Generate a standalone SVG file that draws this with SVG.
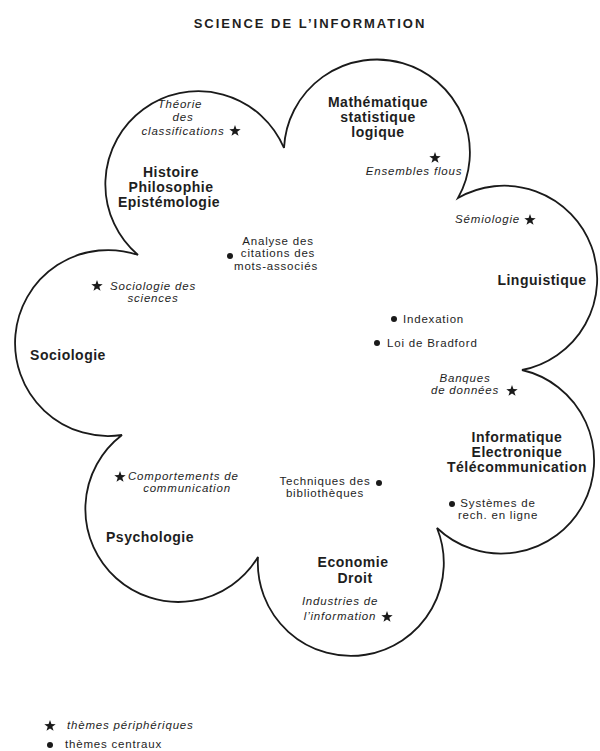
<svg xmlns="http://www.w3.org/2000/svg" xmlns:xlink="http://www.w3.org/1999/xlink" width="600" height="751" viewBox="0 0 600 751">
<style>
text{font-family:"Liberation Sans",Arial,sans-serif;fill:#1e1e1e}
.t{font-size:13px;font-weight:bold;letter-spacing:2px}
.b{font-size:14px;font-weight:bold;letter-spacing:0.5px;text-anchor:middle}
.i{font-size:11.5px;font-style:italic;letter-spacing:0.8px}
.r{font-size:11.5px;letter-spacing:0.8px}
.m{text-anchor:middle}
.e{text-anchor:end}
.cloud{fill:none;stroke:#1a1a1a;stroke-width:1.8;stroke-linejoin:miter}
</style>
<defs>
<polygon id="star" points="0,-6 1.41,-1.94 5.71,-1.85 2.28,0.74 3.53,4.85 0,2.4 -3.53,4.85 -2.28,0.74 -5.71,-1.85 -1.41,-1.94" fill="#1a1a1a"/>
<circle id="dot" r="3" fill="#1a1a1a"/>
</defs>
<rect width="600" height="751" fill="#fff"/>
<text class="t m" x="310" y="28">SCIENCE DE L’INFORMATION</text>
<g id="connectors">
<path class="cloud" d="M138,255 A93,93 0 1 1 284,148 A93,93 0 1 1 458,198 A93,93 0 1 1 522,370 A93,93 0 1 1 437,528 A93,93 0 1 1 258,557 A93,93 0 1 1 122,435 A93,93 0 1 1 138,255 Z"/>
</g>
<g id="histoire">
<text class="b" x="171" y="177">Histoire</text>
<text class="b" x="171" y="192">Philosophie</text>
<text class="b" x="169" y="207">Epistémologie</text>
<text class="i m" x="180" y="108">Théorie</text>
<text class="i m" x="183" y="121">des</text>
<text class="i m" x="183" y="135">classifications</text>
<use xlink:href="#star" x="235" y="131"/>
</g>
<g id="mathematique">
<text class="b" x="378" y="107">Mathématique</text>
<text class="b" x="378" y="122">statistique</text>
<text class="b" x="378" y="137">logique</text>
<use xlink:href="#star" x="435" y="158"/>
<text class="i m" x="414" y="175">Ensembles flous</text>
</g>
<g id="linguistique">
<text class="i e" x="520" y="223">Sémiologie</text>
<use xlink:href="#star" x="530" y="220"/>
<text class="b" x="542" y="285">Linguistique</text>
</g>
<g id="informatique">
<text class="i m" x="465" y="382">Banques</text>
<text class="i m" x="465" y="394">de données</text>
<use xlink:href="#star" x="512" y="391"/>
<text class="b" x="517" y="442">Informatique</text>
<text class="b" x="517" y="457">Electronique</text>
<text class="b" x="517" y="472">Télécommunication</text>
<use xlink:href="#dot" x="452" y="504"/>
<text class="r m" x="498" y="507">Systèmes de</text>
<text class="r m" x="498" y="519">rech. en ligne</text>
</g>
<g id="economie">
<text class="b" x="353" y="567">Economie</text>
<text class="b" x="355" y="583">Droit</text>
<text class="i m" x="340" y="605">Industries de</text>
<text class="i m" x="340" y="620">l’information</text>
<use xlink:href="#star" x="387" y="617"/>
</g>
<g id="psychologie">
<use xlink:href="#star" x="120" y="477"/>
<text class="i" x="128" y="480">Comportements de</text>
<text class="i m" x="187" y="492">communication</text>
<text class="b" x="150" y="542">Psychologie</text>
</g>
<g id="sociologie">
<use xlink:href="#star" x="97" y="286"/>
<text class="i" x="110" y="290">Sociologie des</text>
<text class="i m" x="153" y="302">sciences</text>
<text class="b" x="68" y="360">Sociologie</text>
</g>
<g id="centre">
<use xlink:href="#dot" x="230" y="256"/>
<text class="r m" x="278" y="245">Analyse des</text>
<text class="r m" x="278" y="257">citations des</text>
<text class="r m" x="276" y="270">mots-associés</text>
<use xlink:href="#dot" x="394" y="319"/>
<text class="r" x="403" y="323">Indexation</text>
<use xlink:href="#dot" x="377" y="343"/>
<text class="r" x="387" y="347">Loi de Bradford</text>
<text class="r m" x="325" y="485">Techniques des</text>
<use xlink:href="#dot" x="379" y="483"/>
<text class="r m" x="325" y="497">bibliothèques</text>
</g>
<g id="legend">
<use xlink:href="#star" x="50" y="726"/>
<text class="i" x="67" y="729">thèmes périphériques</text>
<use xlink:href="#dot" x="50" y="745"/>
<text class="r" x="65" y="748">thèmes centraux</text>
</g>
</svg>
